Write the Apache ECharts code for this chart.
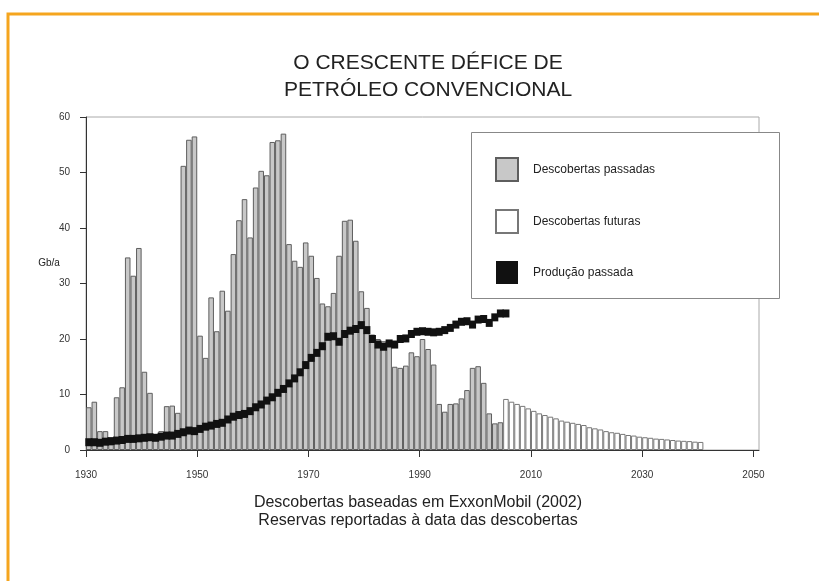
<!DOCTYPE html>
<html><head><meta charset="utf-8">
<script src="https://cdn.jsdelivr.net/npm/echarts@6/dist/echarts.min.js"></script>
<style>html,body{margin:0;padding:0;background:#fff}#c{width:819px;height:581px}</style>
</head><body><div id="c"></div>
<script>
const firstYear = 1930;
const pastDiscoveries = [
  7.7, 8.7, 3.4, 3.4, 1.0, 9.5, 11.3, 34.7, 31.4, 36.4,
  14.1, 10.3, 2.0, 3.4, 7.9, 8.0, 6.7, 51.2, 55.9, 56.5,
  20.6, 16.6, 27.5, 21.4, 28.7, 25.1, 35.3, 41.4, 45.2, 38.3,
  47.3, 50.3, 49.5, 55.5, 55.8, 57.0, 37.1, 34.1, 33.0, 37.4,
  35.0, 31.0, 26.4, 25.9, 28.3, 35.0, 41.3, 41.5, 37.7, 28.6,
  25.6, 20.8, 20.0, 19.6, 18.7, 15.0, 14.8, 15.2, 17.6, 16.9,
  20.0, 18.2, 15.4, 8.3, 6.9, 8.3, 8.4, 9.3, 10.8, 14.8,
  15.1, 12.1, 6.6, 4.8, 5.0
];
const futureStartYear = 2005;
const futureDiscoveries = [
  9.2, 8.7, 8.3, 7.95, 7.5, 7.05, 6.6, 6.3, 6.0, 5.7,
  5.3, 5.1, 4.9, 4.7, 4.5, 4.1, 3.9, 3.7, 3.4, 3.2,
  3.1, 2.9, 2.7, 2.6, 2.4, 2.3, 2.2, 2.05, 2.0, 1.9,
  1.8, 1.7, 1.65, 1.6, 1.5, 1.45
];
const production = [
  1.4, 1.4, 1.3, 1.5, 1.6, 1.7, 1.8, 2.0, 2.0, 2.1,
  2.2, 2.3, 2.2, 2.4, 2.6, 2.6, 2.9, 3.2, 3.5, 3.4,
  3.8, 4.2, 4.4, 4.7, 4.9, 5.5, 6.0, 6.3, 6.5, 7.0,
  7.7, 8.2, 8.9, 9.5, 10.3, 11.0, 12.0, 12.9, 14.0, 15.3,
  16.6, 17.5, 18.7, 20.4, 20.5, 19.5, 20.9, 21.5, 21.8, 22.5,
  21.6, 20.0, 19.0, 18.6, 19.2, 19.0, 20.0, 20.1, 20.9, 21.3,
  21.4, 21.3, 21.2, 21.3, 21.6, 22.0, 22.6, 23.1, 23.2, 22.6,
  23.5, 23.6, 22.9, 23.9, 24.6, 24.6
];
const xTickLabels = [1930, 1950, 1970, 1990, 2010, 2030, 2050];
const seriesNames = ['Descobertas passadas', 'Descobertas futuras', 'Produção passada'];
const titleLines = ['O CRESCENTE DÉFICE DE', 'PETRÓLEO CONVENCIONAL'];
const footLines = ['Descobertas baseadas em ExxonMobil (2002)', 'Reservas reportadas à data das descobertas'];

const toPairs = (start, arr) => arr.map((v, i) => [start + i + 0.5, v]);
const FONT = "'Liberation Sans', Arial, sans-serif";

const chart = echarts.init(document.getElementById('c'), null, {renderer: 'canvas'});
chart.setOption({
  animation: false,
  backgroundColor: '#fff',
  textStyle: {fontFamily: FONT},
  grid: {left: 86, right: 60, top: 117, bottom: 131, show: true, borderColor: '#aaa', borderWidth: 1},
  graphic: [
    {type: 'rect', shape: {x: 8, y: 14, width: 1000, height: 800}, style: {fill: 'none', stroke: '#F5A51E', lineWidth: 3}, silent: true},
    {type: 'rect', shape: {x: 471.5, y: 132.5, width: 308, height: 166}, style: {fill: '#fff', stroke: '#888', lineWidth: 1}, z: 3},
    {type: 'text', x: 428, y: 50, style: {text: titleLines.join('\n'), font: "21px " + FONT, fill: '#222', align: 'center', lineHeight: 27}},
    {type: 'text', x: 418, y: 494, style: {text: footLines.join('\n'), font: "16px " + FONT, fill: '#222', align: 'center', lineHeight: 18}},
    {type: 'text', x: 49, y: 263, style: {text: 'Gb/a', font: "10px " + FONT, fill: '#222', align: 'center', verticalAlign: 'middle'}}
  ],
  legend: {
    left: 495, top: 157, orient: 'vertical', icon: 'rect',
    itemWidth: 22, itemHeight: 23, itemGap: 27, padding: 0, z: 10,
    textStyle: {fontSize: 12, color: '#222', padding: [0, 0, 0, 10]},
    data: seriesNames
  },
  xAxis: {
    type: 'value', min: 1930, max: 2051,
    axisLine: {lineStyle: {color: '#333'}},
    axisTick: {customValues: xTickLabels, length: 7, lineStyle: {color: '#333'}},
    axisLabel: {customValues: xTickLabels, fontSize: 10, color: '#333', margin: 20, formatter: v => String(v)},
    splitLine: {show: false}
  },
  yAxis: {
    type: 'value', min: 0, max: 60, interval: 10,
    axisLine: {show: true, lineStyle: {color: '#333'}},
    axisTick: {show: true, length: 6, lineStyle: {color: '#333'}},
    axisLabel: {fontSize: 10, color: '#333', margin: 16},
    splitLine: {show: false}
  },
  series: [
    {type: 'bar', name: seriesNames[0], data: toPairs(firstYear, pastDiscoveries), barWidth: '100%', barGap: '-100%',
     itemStyle: {color: '#c8c8c8', borderColor: '#5e5e5e', borderWidth: 1}},
    {type: 'bar', name: seriesNames[1], data: toPairs(futureStartYear, futureDiscoveries), barWidth: '100%', barGap: '-100%',
     itemStyle: {color: '#fff', borderColor: '#777', borderWidth: 1}},
    {type: 'scatter', name: seriesNames[2], data: toPairs(firstYear, production), symbol: 'rect', symbolSize: [7, 8],
     itemStyle: {color: '#111', opacity: 1}, z: 5}
  ]
});
</script></body></html>
